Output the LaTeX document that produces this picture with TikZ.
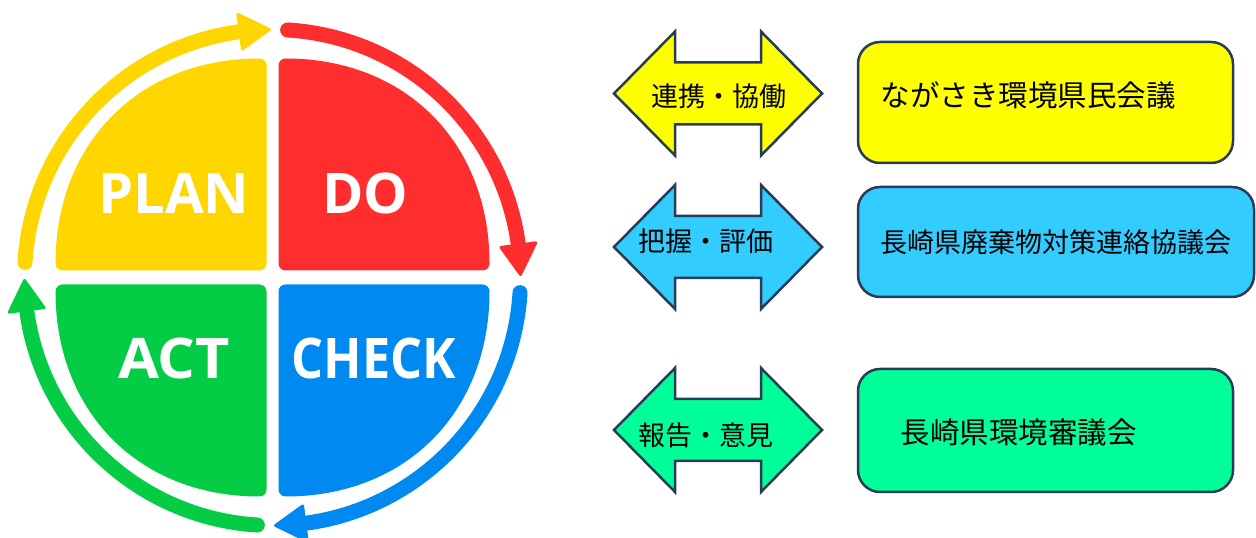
\documentclass[tikz,border=0pt]{standalone}
\usepackage{fontspec}
\newfontfamily\jpfont{Noto Sans CJK JP}
\newfontfamily\pdcafont{Open Sans}
\usetikzlibrary{calc}
\definecolor{cyel}{RGB}{255,214,0}
\definecolor{cred}{RGB}{255,46,46}
\definecolor{cblu}{RGB}{0,137,240}
\definecolor{cgrn}{RGB}{4,204,68}
\definecolor{bord}{RGB}{40,60,85}
\definecolor{fyel}{RGB}{255,255,0}
\definecolor{fblu}{RGB}{51,204,255}
\definecolor{fgrn}{RGB}{0,255,153}
\tikzset{
  pdcatext/.style={text=white, font=\pdcafont\bfseries\fontsize{56}{60}\selectfont, inner sep=0},
  dblarrow/.style={draw=bord, line width=2.5, line join=miter},
  arrowtext/.style={font=\jpfont\fontsize{27}{32}\selectfont, inner sep=0},
  orgbox/.style={draw=bord, line width=2.5, rounded corners=22, inner sep=0},
  boxtext/.style={font=\jpfont\fontsize{29.5}{34}\selectfont, inner sep=0, anchor=west},
}
\begin{document}
\begin{tikzpicture}[x=1pt,y=1pt]
\useasboundingbox (0,0) rectangle (1256,538);
\coordinate (C) at (272.5,260.5);
% quadrants
\foreach \sx/\sy/\col in {-1/1/cyel, 1/1/cred, 1/-1/cblu, -1/-1/cgrn} {
  \fill[\col, rounded corners=7, shift={(C)}, xscale=\sx, yscale=\sy]
    (6,7) -- (6,219) .. controls (134,219) and (217,134) .. (217,7) -- cycle;
}
\node[pdcatext] (plan) at (174,345) {PLAN};
\node[pdcatext] (do) at (365.5,345) {DO};
\node[pdcatext, transform shape, xscale=1.06] (act) at (174,179.4) {ACT};
\node[pdcatext, transform shape, xscale=0.9] (check) at (374,179.4) {CHECK};
% ring arrows
\foreach \k/\col in {0/cyel,1/cred,2/cblu,3/cgrn} {
  \pgfmathsetmacro\s{176.5-90*\k}
  \pgfmathsetmacro\b{97.5-90*\k}
  \pgfmathsetmacro\t{90.7-90*\k}
  \draw[\col, line width=15, line cap=round] ($(C)+(\s:248)$) arc[start angle=\s, end angle=\b-1, radius=248];
  \fill[\col, draw=\col, line width=3, line join=round]
    ($(C)+(\b:230.5)$) -- ($(C)+(\b:265.5)$) -- ($(C)+(\t:248)$) -- cycle;
}
% double arrows
\foreach \Y/\col in {444.5/fyel, 291/fblu, 108/fgrn} {
  \filldraw[dblarrow, fill=\col]
    (614,\Y) -- (675,\Y+62) -- (675,\Y+31) -- (761,\Y+31) -- (761,\Y+62) -- (822,\Y)
    -- (761,\Y-62) -- (761,\Y-31) -- (675,\Y-31) -- (675,\Y-62) -- cycle;
}
\node[arrowtext] (t1) at (718.5,441.3) {連携・協働};
\node[arrowtext] (t2) at (706,297) {把握・評価};
\node[arrowtext] (t3) at (706,103) {報告・意見};
% boxes
\node[orgbox, fill=fyel, minimum width=375, minimum height=121] (b1) at (1045.5,435.5) {};
\node[orgbox, fill=fblu, minimum width=396, minimum height=110] (b2) at (1056,296) {};
\node[orgbox, fill=fgrn, minimum width=375, minimum height=123] (b3) at (1045.5,107.5) {};
\node[boxtext] (l1) at (880.5,443) {ながさき環境県民会議};
\node[boxtext, font=\jpfont\fontsize{27}{32}\selectfont] (l2) at (880.5,296) {長崎県廃棄物対策連絡協議会};
\node[boxtext] (l3) at (900.5,106) {長崎県環境審議会};
\end{tikzpicture}
\end{document}
